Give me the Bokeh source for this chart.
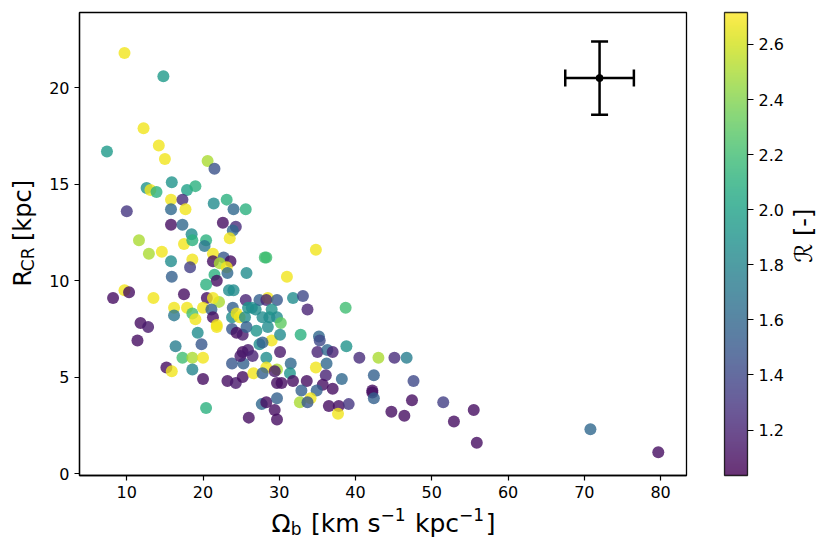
import numpy as np
from bokeh.plotting import figure
from bokeh.layouts import row, column
from bokeh.models import (ColumnDataSource, LinearColorMapper, ColorBar, FixedTicker,
                          Whisker, TeeHead, Label, Range1d, NumeralTickFormatter)
from bokeh.palettes import Viridis256
from bokeh.embed import file_html
from bokeh.resources import INLINE

# ---------------- data ----------------
omega_b = [
    9.7, 14.8, 12.2, 14.2, 7.4, 15.0, 20.6, 21.5, 15.9, 12.6,
    13.1, 13.9, 17.9, 19.0, 15.8, 17.3, 17.7, 15.8, 10.0, 21.4,
    23.1, 24.0, 25.6, 15.8, 17.3, 22.6, 24.3, 23.9, 23.5, 11.6,
    17.5, 18.5, 18.6, 20.4, 20.2, 12.9, 14.6, 15.8, 18.6, 18.3,
    21.3, 22.7, 21.3, 23.6, 22.2, 23.1, 23.2, 25.7, 28.1, 28.3,
    15.9, 21.5, 21.8, 20.4, 34.8, 31.0, 8.2, 9.7, 10.3, 13.5,
    17.5, 20.5, 22.1, 21.3, 23.4, 24.0, 25.6, 26.9, 27.4, 28.5,
    28.3, 29.7, 16.2, 17.9, 18.6, 16.2, 19.0, 20.0, 21.1, 21.3,
    21.8, 21.8, 23.9, 23.8, 24.4, 24.8, 25.5, 25.9, 26.4, 27.8,
    28.7, 29.0, 11.8, 12.8, 11.4, 19.3, 19.8, 23.8, 24.4, 25.2,
    25.7, 27.0, 28.5, 29.0, 27.4, 27.8, 16.4, 17.3, 18.6, 20.0,
    23.8, 25.3, 25.2, 25.9, 24.9, 26.5, 28.3, 28.3, 29.7, 15.2,
    15.9, 18.6, 20.0, 23.2, 24.3, 25.2, 26.6, 27.8, 29.7, 20.4,
    26.0, 27.7, 28.3, 29.4, 29.7, 31.8, 33.1, 33.7, 38.7, 29.7,
    30.2, 30.1, 32.8, 35.2, 35.3, 30.1, 35.0, 36.3, 37.0, 38.8,
    40.5, 43.0, 45.1, 46.7, 31.5, 34.8, 36.2, 29.4, 31.4, 30.3,
    31.8, 33.6, 36.1, 35.7, 37.0, 38.2, 42.4, 47.6, 32.9, 34.9,
    34.1, 32.7, 33.7, 42.2, 42.2, 42.4, 29.7, 36.5, 37.8, 39.1,
    37.7, 44.7, 46.4, 47.4, 51.5, 52.9, 55.5, 55.9, 70.8, 79.7,
]
r_cr = [
    21.8, 20.6, 17.9, 17.0, 16.7, 16.3, 16.2, 15.8, 15.1, 14.8,
    14.7, 14.6, 14.7, 14.9, 14.2, 14.2, 13.7, 13.7, 13.6, 14.0,
    14.2, 13.7, 13.7, 12.9, 12.9, 13.0, 12.8, 12.6, 12.2, 12.1,
    11.9, 12.4, 12.1, 12.1, 11.8, 11.4, 11.5, 11.0, 11.1, 10.7,
    11.4, 11.2, 11.0, 11.0, 10.9, 10.7, 10.4, 10.4, 11.2, 11.2,
    10.2, 10.3, 10.0, 9.8, 11.6, 10.2, 9.1, 9.5, 9.4, 9.1,
    9.3, 9.1, 8.9, 9.1, 9.5, 9.5, 9.0, 8.5, 9.0, 9.1,
    9.0, 9.0, 8.6, 8.6, 8.3, 8.2, 8.0, 8.6, 8.5, 8.1,
    7.7, 7.6, 8.6, 8.1, 8.3, 8.1, 8.1, 8.6, 8.6, 8.1,
    8.1, 8.5, 7.8, 7.6, 6.9, 7.3, 6.7, 7.5, 7.3, 7.2,
    7.6, 7.4, 7.6, 6.9, 6.7, 6.8, 6.6, 6.0, 6.0, 6.0,
    5.7, 5.7, 6.3, 6.4, 6.1, 6.1, 6.0, 5.5, 5.4, 5.5,
    5.3, 5.4, 4.9, 4.8, 4.7, 5.0, 5.2, 5.2, 4.7, 3.4,
    2.9, 3.6, 3.7, 3.3, 2.8, 9.1, 9.2, 8.5, 8.6, 8.1,
    7.8, 7.2, 7.2, 7.1, 6.9, 6.3, 6.3, 6.4, 6.3, 6.6,
    6.0, 6.0, 6.0, 6.0, 5.7, 5.5, 5.7, 5.3, 5.2, 4.7,
    4.8, 4.8, 5.1, 4.6, 4.4, 4.9, 5.1, 4.8, 4.3, 4.3,
    3.9, 3.7, 3.7, 4.3, 4.2, 3.9, 3.9, 3.5, 3.5, 3.6,
    3.1, 3.2, 3.0, 3.8, 3.7, 2.7, 3.3, 1.6, 2.3, 1.1,
]
ratio_r = [
    2.68, 1.95, 2.68, 2.68, 1.95, 2.68, 2.5, 1.45, 1.9, 1.9,
    2.68, 2.1, 2.0, 2.1, 2.68, 1.25, 2.68, 1.6, 1.3, 1.85,
    2.1, 1.6, 2.1, 1.1, 1.6, 1.1, 1.25, 1.6, 2.68, 2.5,
    2.68, 1.85, 2.1, 2.1, 1.7, 2.5, 2.68, 1.85, 2.68, 1.35,
    2.68, 1.5, 1.1, 1.1, 2.5, 2.68, 1.6, 1.85, 2.2, 2.2,
    1.55, 2.1, 1.1, 2.1, 2.68, 2.68, 1.1, 2.68, 1.1, 2.68,
    1.1, 1.1, 2.5, 2.68, 1.85, 1.85, 1.2, 1.85, 1.55, 2.68,
    1.2, 1.5, 2.68, 2.68, 2.2, 1.7, 2.68, 2.68, 1.55, 1.1,
    2.68, 2.68, 1.55, 1.85, 2.68, 2.68, 1.85, 1.9, 1.85, 1.85,
    1.85, 1.9, 1.1, 1.15, 1.1, 1.85, 1.5, 1.5, 1.1, 1.15,
    1.55, 1.9, 1.85, 2.68, 1.85, 1.55, 1.75, 2.2, 2.5, 2.68,
    1.5, 1.55, 1.1, 1.15, 1.15, 1.2, 1.85, 2.68, 2.5, 1.1,
    2.68, 1.8, 1.1, 1.1, 1.15, 1.1, 2.68, 1.55, 1.1, 2.1,
    1.1, 1.6, 1.1, 1.1, 1.1, 1.85, 1.4, 1.2, 2.2, 1.85,
    2.3, 1.85, 2.1, 1.6, 1.4, 1.15, 1.2, 1.6, 1.2, 1.9,
    1.25, 2.5, 1.25, 1.75, 1.6, 2.68, 1.6, 1.15, 1.9, 1.1,
    1.1, 1.1, 1.2, 1.1, 1.1, 1.6, 1.55, 1.4, 1.55, 1.55,
    2.68, 2.5, 1.5, 1.1, 1.1, 1.55, 1.55, 1.1, 1.1, 1.3,
    2.68, 1.1, 1.1, 1.1, 1.35, 1.1, 1.1, 1.1, 1.6, 1.1,
]
# typical uncertainty (error-bar cross)
err_x = [72.0]
err_y = [20.5]
err_dx = [4.5]
err_dy = [1.9]

x_ticks = [10, 20, 30, 40, 50, 60, 70, 80]
y_ticks = [0, 5, 10, 15, 20]
cb_ticks = [1.2, 1.4, 1.6, 1.8, 2.0, 2.2, 2.4, 2.6]
r_low, r_high = 1.035, 2.716

FONT = "DejaVu Sans"

# ---------------- layout sizes (px) ----------------
LAB_L = 40      # left strip holding the y label
LAB_R = 36      # right strip holding the colour-bar label
MAIN_W = 746
MAIN_H = 505
LAB_B = 44      # bottom strip holding the x label
FRAME_W, FRAME_H = 608, 463
TOP = 12

# ---------------- main figure ----------------
p = figure(width=MAIN_W, height=MAIN_H, output_backend="svg", toolbar_location=None,
           x_range=Range1d(3.8, 83.4), y_range=Range1d(-0.1, 23.9),
           min_border_left=39, min_border_right=MAIN_W - 39 - FRAME_W,
           min_border_top=TOP, min_border_bottom=MAIN_H - TOP - FRAME_H)
p.grid.visible = False
p.outline_line_color = "black"
p.outline_line_width = 1.3

for ax in (p.xaxis[0], p.yaxis[0]):
    ax.axis_line_color = "black"
    ax.axis_line_width = 1.3
    ax.major_tick_out = 5
    ax.major_tick_in = 0
    ax.major_tick_line_width = 1.2
    ax.minor_tick_out = 0
    ax.minor_tick_in = 0
    ax.major_label_text_font = FONT
    ax.major_label_text_font_size = "16px"
    ax.major_label_text_color = "black"
    ax.major_label_standoff = 5
p.xaxis[0].ticker = FixedTicker(ticks=x_ticks)
p.yaxis[0].ticker = FixedTicker(ticks=y_ticks)

mapper = LinearColorMapper(palette=Viridis256, low=r_low, high=r_high)
src = ColumnDataSource(dict(x=omega_b, y=r_cr, r=ratio_r))
p.scatter("x", "y", source=src, size=12,
          fill_color={"field": "r", "transform": mapper}, fill_alpha=0.8,
          line_color=None)

# error-bar cross
esrc = ColumnDataSource(dict(
    x=err_x, y=err_y,
    xl=[a - b for a, b in zip(err_x, err_dx)], xu=[a + b for a, b in zip(err_x, err_dx)],
    yl=[a - b for a, b in zip(err_y, err_dy)], yu=[a + b for a, b in zip(err_y, err_dy)],
))
for base, lo, hi, dim in (("y", "xl", "xu", "width"), ("x", "yl", "yu", "height")):
    w = Whisker(base=base, lower=lo, upper=hi, dimension=dim, source=esrc,
                line_color="black", line_width=2.5,
                lower_head=TeeHead(size=17, line_width=2.5, line_color="black"),
                upper_head=TeeHead(size=17, line_width=2.5, line_color="black"))
    p.add_layout(w)
p.scatter("x", "y", source=esrc, size=7, color="black")

# colour bar
cb = ColorBar(color_mapper=mapper, width=23, height=FRAME_H, location=(38, 0),
              ticker=FixedTicker(ticks=cb_ticks),
              formatter=NumeralTickFormatter(format="0.0"),
              major_label_text_font=FONT, major_label_text_font_size="16px",
              major_label_text_color="black",
              major_tick_out=6, major_tick_in=0, major_tick_line_color="black",
              major_tick_line_width=1.2,
              minor_tick_line_color=None,
              bar_line_color="black", bar_line_width=1.3,
              scale_alpha=0.8, padding=0, margin=0, label_standoff=5,
              background_fill_alpha=0, border_line_color=None)
p.add_layout(cb, "right")


# ---------------- label strips ----------------
def strip(w, h):
    f = figure(width=w, height=h, output_backend="svg", toolbar_location=None,
               x_range=Range1d(0, w), y_range=Range1d(0, h),
               x_axis_type=None, y_axis_type=None,
               min_border=0, min_border_left=0, min_border_right=0,
               min_border_top=0, min_border_bottom=0)
    f.grid.visible = False
    f.outline_line_color = None
    return f


ADV = {'R': 0.695, 'C': 0.698, ' ': 0.318, '[': 0.390, ']': 0.390, 'k': 0.579,
       'p': 0.635, 'c': 0.550, 'm': 0.974, 's': 0.521, '\u03a9': 0.765, 'b': 0.635,
       '\u2212': 0.838, '1': 0.636, '-': 0.361}


def run_width(s, size):
    return sum(ADV.get(ch, 0.62) for ch in s) * size


def add_runs(fig, runs, center, base, angle, gap=1.5):
    total = sum(run_width(t, s) + (gap if sh else 0) for t, s, sh in runs)
    pos = center - total / 2
    for t, s, sh in runs:
        lead = len(t) - len(t.lstrip(" "))
        pos += run_width(" " * lead, s)
        t = t.lstrip(" ")
        if angle == 0:
            lx, ly = pos, base + sh
        else:
            lx, ly = base - sh, pos
        fig.add_layout(Label(x=lx, y=ly, text=t, angle=angle, text_font=FONT,
                             text_font_size=f"{s}px", text_color="black",
                             text_baseline="alphabetic", text_align="left"))
        pos += run_width(t, s) + (gap if sh else 0)


frame_cy = MAIN_H - (TOP + FRAME_H / 2)          # frame centre, from strip bottom

ylab = strip(LAB_L, MAIN_H)
add_runs(ylab, [("R", 24, 0), ("CR", 17, -5), (" [kpc]", 24, 0)],
         center=frame_cy, base=22, angle=np.pi / 2)

rlab = strip(LAB_R, MAIN_H)
rlab.add_layout(Label(x=17, y=frame_cy, text="\u211b [-]", angle=np.pi / 2,
                      text_font=FONT, text_font_size="24px", text_color="black",
                      text_baseline="alphabetic", text_align="center"))

xlab = strip(LAB_L + MAIN_W + LAB_R, LAB_B)
add_runs(xlab, [("\u03a9", 25, 0), ("b", 17, -5), (" [km s", 25, 0), ("\u22121", 17, 9),
                (" kpc", 25, 0), ("\u22121", 17, 9), ("]", 25, 0)],
         center=LAB_L + 39 + FRAME_W / 2, base=26, angle=0)

layout = column(row(ylab, p, rlab, spacing=0), xlab, spacing=0)

open("out.html", "w").write(file_html(layout, INLINE))
